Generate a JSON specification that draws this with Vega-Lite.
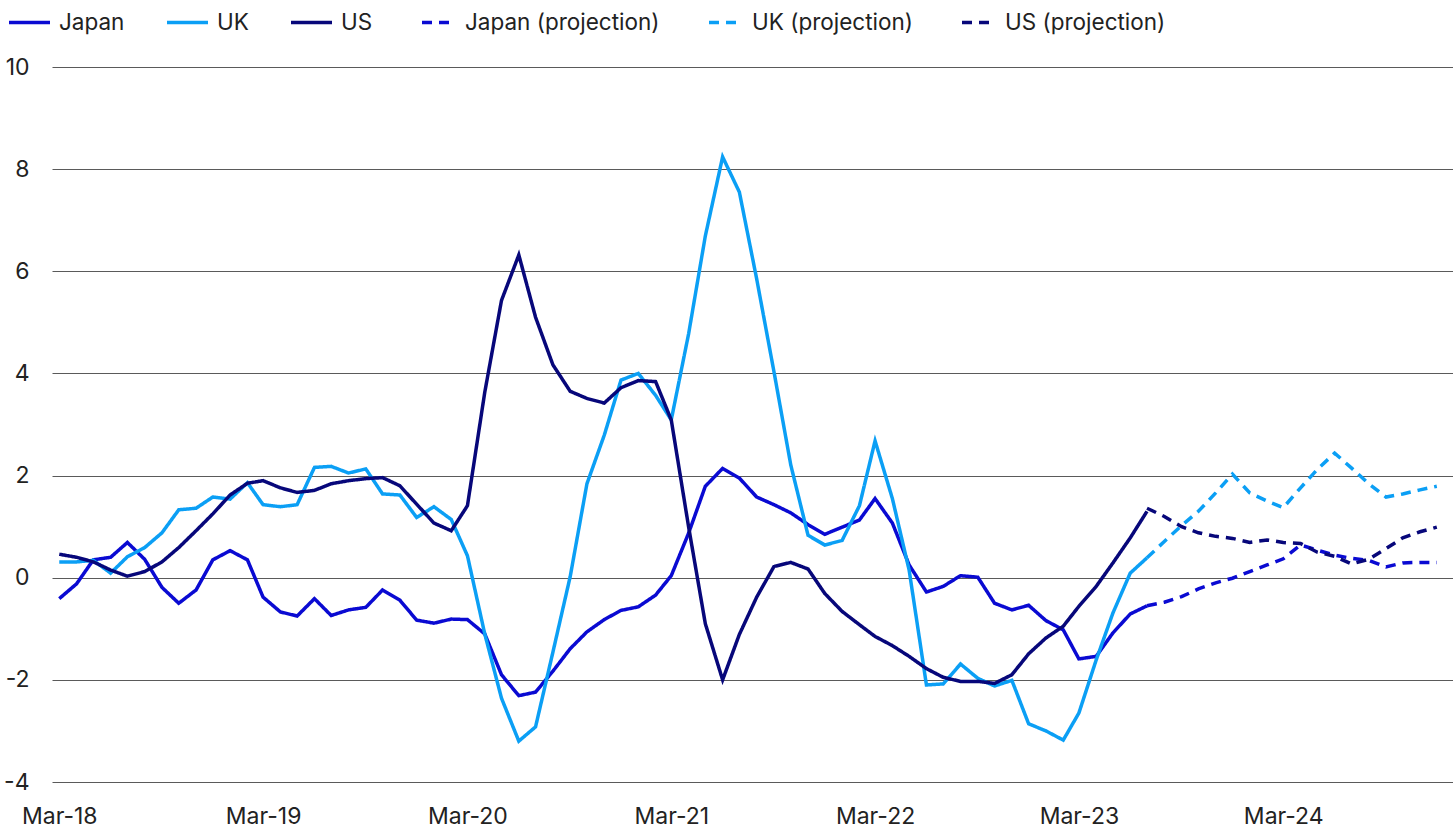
{
  "$schema": "https://vega.github.io/schema/vega-lite/v6.json",
  "width": 1401,
  "height": 715,
  "autosize": {"type": "none"},
  "padding": {"left": 52, "top": 67, "right": 0, "bottom": 47},
  "background": "white",
  "config": {"font": "Inter", "view": {"stroke": null}},
  "data": {
    "format": {"parse": {"month": "date"}},
    "values": [
      {"month": "2018/03/01", "Japan": -0.41, "UK": 0.31, "US": 0.46},
      {"month": "2018/04/01", "Japan": -0.12, "UK": 0.31, "US": 0.40},
      {"month": "2018/05/01", "Japan": 0.35, "UK": 0.34, "US": 0.31},
      {"month": "2018/06/01", "Japan": 0.40, "UK": 0.09, "US": 0.15},
      {"month": "2018/07/01", "Japan": 0.69, "UK": 0.41, "US": 0.03},
      {"month": "2018/08/01", "Japan": 0.36, "UK": 0.59, "US": 0.12},
      {"month": "2018/09/01", "Japan": -0.19, "UK": 0.88, "US": 0.31},
      {"month": "2018/10/01", "Japan": -0.50, "UK": 1.33, "US": 0.59},
      {"month": "2018/11/01", "Japan": -0.24, "UK": 1.36, "US": 0.92},
      {"month": "2018/12/01", "Japan": 0.35, "UK": 1.58, "US": 1.25},
      {"month": "2019/01/01", "Japan": 0.53, "UK": 1.54, "US": 1.62},
      {"month": "2019/02/01", "Japan": 0.35, "UK": 1.86, "US": 1.85},
      {"month": "2019/03/01", "Japan": -0.38, "UK": 1.43, "US": 1.90},
      {"month": "2019/04/01", "Japan": -0.67, "UK": 1.39, "US": 1.76},
      {"month": "2019/05/01", "Japan": -0.75, "UK": 1.43, "US": 1.67},
      {"month": "2019/06/01", "Japan": -0.41, "UK": 2.16, "US": 1.71},
      {"month": "2019/07/01", "Japan": -0.74, "UK": 2.18, "US": 1.84},
      {"month": "2019/08/01", "Japan": -0.63, "UK": 2.05, "US": 1.90},
      {"month": "2019/09/01", "Japan": -0.58, "UK": 2.13, "US": 1.94},
      {"month": "2019/10/01", "Japan": -0.24, "UK": 1.64, "US": 1.96},
      {"month": "2019/11/01", "Japan": -0.44, "UK": 1.62, "US": 1.80},
      {"month": "2019/12/01", "Japan": -0.83, "UK": 1.18, "US": 1.44},
      {"month": "2020/01/01", "Japan": -0.89, "UK": 1.39, "US": 1.07},
      {"month": "2020/02/01", "Japan": -0.81, "UK": 1.14, "US": 0.92},
      {"month": "2020/03/01", "Japan": -0.82, "UK": 0.43, "US": 1.41},
      {"month": "2020/04/01", "Japan": -1.10, "UK": -1.10, "US": 3.63},
      {"month": "2020/05/01", "Japan": -1.90, "UK": -2.36, "US": 5.43},
      {"month": "2020/06/01", "Japan": -2.31, "UK": -3.20, "US": 6.32},
      {"month": "2020/07/01", "Japan": -2.24, "UK": -2.92, "US": 5.10},
      {"month": "2020/08/01", "Japan": -1.83, "UK": -1.46, "US": 4.17},
      {"month": "2020/09/01", "Japan": -1.39, "UK": 0.02, "US": 3.65},
      {"month": "2020/10/01", "Japan": -1.06, "UK": 1.84, "US": 3.51},
      {"month": "2020/11/01", "Japan": -0.82, "UK": 2.79, "US": 3.42},
      {"month": "2020/12/01", "Japan": -0.64, "UK": 3.87, "US": 3.72},
      {"month": "2021/01/01", "Japan": -0.57, "UK": 4.00, "US": 3.86},
      {"month": "2021/02/01", "Japan": -0.34, "UK": 3.57, "US": 3.84},
      {"month": "2021/03/01", "Japan": 0.04, "UK": 3.09, "US": 3.09},
      {"month": "2021/04/01", "Japan": 0.87, "UK": 4.77, "US": 1.00},
      {"month": "2021/05/01", "Japan": 1.79, "UK": 6.69, "US": -0.90},
      {"month": "2021/06/01", "Japan": 2.14, "UK": 8.24, "US": -2.00},
      {"month": "2021/07/01", "Japan": 1.95, "UK": 7.55, "US": -1.11},
      {"month": "2021/08/01", "Japan": 1.58, "UK": 5.85, "US": -0.38},
      {"month": "2021/09/01", "Japan": 1.43, "UK": 4.03, "US": 0.22},
      {"month": "2021/10/01", "Japan": 1.27, "UK": 2.21, "US": 0.30},
      {"month": "2021/11/01", "Japan": 1.04, "UK": 0.83, "US": 0.17},
      {"month": "2021/12/01", "Japan": 0.85, "UK": 0.64, "US": -0.31},
      {"month": "2022/01/01", "Japan": 0.99, "UK": 0.73, "US": -0.66},
      {"month": "2022/02/01", "Japan": 1.13, "UK": 1.41, "US": -0.92},
      {"month": "2022/03/01", "Japan": 1.55, "UK": 2.68, "US": -1.15},
      {"month": "2022/04/01", "Japan": 1.07, "UK": 1.55, "US": -1.33},
      {"month": "2022/05/01", "Japan": 0.25, "UK": 0.15, "US": -1.54},
      {"month": "2022/06/01", "Japan": -0.28, "UK": -2.10, "US": -1.78},
      {"month": "2022/07/01", "Japan": -0.17, "UK": -2.08, "US": -1.95},
      {"month": "2022/08/01", "Japan": 0.04, "UK": -1.69, "US": -2.03},
      {"month": "2022/09/01", "Japan": 0.01, "UK": -1.97, "US": -2.03},
      {"month": "2022/10/01", "Japan": -0.50, "UK": -2.12, "US": -2.07},
      {"month": "2022/11/01", "Japan": -0.63, "UK": -2.01, "US": -1.90},
      {"month": "2022/12/01", "Japan": -0.54, "UK": -2.86, "US": -1.49},
      {"month": "2023/01/01", "Japan": -0.84, "UK": -3.00, "US": -1.18},
      {"month": "2023/02/01", "Japan": -1.02, "UK": -3.18, "US": -0.95},
      {"month": "2023/03/01", "Japan": -1.59, "UK": -2.65, "US": -0.56},
      {"month": "2023/04/01", "Japan": -1.54, "UK": -1.61, "US": -0.17},
      {"month": "2023/05/01", "Japan": -1.08, "UK": -0.69, "US": 0.29},
      {"month": "2023/06/01", "Japan": -0.71, "UK": 0.09, "US": 0.78},
      {"month": "2023/07/01", "Japan": -0.55, "UK": 0.39, "US": 1.30, "Japan (projection)": -0.55, "UK (projection)": 0.39, "US (projection)": 1.36},
      {"month": "2023/08/01", "Japan (projection)": -0.48, "UK (projection)": 0.71, "US (projection)": 1.20},
      {"month": "2023/09/01", "Japan (projection)": -0.37, "UK (projection)": 1.02, "US (projection)": 1.00},
      {"month": "2023/10/01", "Japan (projection)": -0.22, "UK (projection)": 1.30, "US (projection)": 0.88},
      {"month": "2023/11/01", "Japan (projection)": -0.10, "UK (projection)": 1.66, "US (projection)": 0.81},
      {"month": "2023/12/01", "Japan (projection)": -0.01, "UK (projection)": 2.03, "US (projection)": 0.77},
      {"month": "2024/01/01", "Japan (projection)": 0.12, "UK (projection)": 1.66, "US (projection)": 0.69},
      {"month": "2024/02/01", "Japan (projection)": 0.25, "UK (projection)": 1.50, "US (projection)": 0.74},
      {"month": "2024/03/01", "Japan (projection)": 0.37, "UK (projection)": 1.37, "US (projection)": 0.69},
      {"month": "2024/04/01", "Japan (projection)": 0.64, "UK (projection)": 1.76, "US (projection)": 0.67},
      {"month": "2024/05/01", "Japan (projection)": 0.54, "UK (projection)": 2.12, "US (projection)": 0.50},
      {"month": "2024/06/01", "Japan (projection)": 0.44, "UK (projection)": 2.44, "US (projection)": 0.42},
      {"month": "2024/07/01", "Japan (projection)": 0.38, "UK (projection)": 2.15, "US (projection)": 0.27},
      {"month": "2024/08/01", "Japan (projection)": 0.34, "UK (projection)": 1.84, "US (projection)": 0.36},
      {"month": "2024/09/01", "Japan (projection)": 0.21, "UK (projection)": 1.58, "US (projection)": 0.57},
      {"month": "2024/10/01", "Japan (projection)": 0.29, "UK (projection)": 1.64, "US (projection)": 0.78},
      {"month": "2024/11/01", "Japan (projection)": 0.30, "UK (projection)": 1.72, "US (projection)": 0.90},
      {"month": "2024/12/01", "Japan (projection)": 0.30, "UK (projection)": 1.79, "US (projection)": 0.99}
    ]
  },
  "transform": [
    {"fold": ["Japan", "UK", "US", "Japan (projection)", "UK (projection)", "US (projection)"], "as": ["series", "value"]},
    {"filter": "isValid(datum.value)"}
  ],
  "mark": {"type": "line", "strokeWidth": 3.5},
  "encoding": {
    "x": {
      "field": "month",
      "type": "temporal",
      "scale": {"domain": [{"year": 2018, "month": 2, "date": 16}, {"year": 2024, "month": 12, "date": 30}]},
      "axis": {
        "title": null,
        "values": [
          {"year": 2018, "month": 3, "date": 1},
          {"year": 2019, "month": 3, "date": 1},
          {"year": 2020, "month": 3, "date": 1},
          {"year": 2021, "month": 3, "date": 1},
          {"year": 2022, "month": 3, "date": 1},
          {"year": 2023, "month": 3, "date": 1},
          {"year": 2024, "month": 3, "date": 1}
        ],
        "format": "%b-%y",
        "ticks": false,
        "domain": false,
        "grid": false,
        "labelPadding": 23,
        "labelFontSize": 23,
        "labelColor": "#222222",
        "labelFont": "Inter"
      }
    },
    "y": {
      "field": "value",
      "type": "quantitative",
      "scale": {"domain": [-4, 10], "nice": false, "zero": false},
      "axis": {
        "title": null,
        "values": [-4, -2, 0, 2, 4, 6, 8, 10],
        "labelExpr": "'' + datum.value",
        "ticks": false,
        "domain": false,
        "grid": true,
        "gridColor": "#5a5a5a",
        "gridWidth": 1,
        "labelPadding": 23,
        "labelFontSize": 23,
        "labelColor": "#222222",
        "labelFont": "Inter"
      }
    },
    "color": {
      "field": "series",
      "type": "nominal",
      "scale": {
        "domain": ["Japan", "UK", "US", "Japan (projection)", "UK (projection)", "US (projection)"],
        "range": ["#0a0ad2", "#0b9ff5", "#07077a", "#0a0ad2", "#0b9ff5", "#07077a"]
      },
      "legend": {
        "orient": "none",
        "legendX": -45,
        "legendY": -67,
        "direction": "horizontal",
        "title": null,
        "symbolType": "stroke",
        "symbolSize": 1681,
        "symbolStrokeWidth": 3.5,
        "symbolDashOffset": 10,
        "labelFontSize": 22.5,
        "labelColor": "#222222",
        "labelFont": "Inter",
        "labelOffset": 7,
        "columnPadding": 35,
        "labelLimit": 400,
        "padding": 0
      }
    },
    "strokeDash": {
      "field": "series",
      "type": "nominal",
      "scale": {
        "domain": ["Japan", "UK", "US", "Japan (projection)", "UK (projection)", "US (projection)"],
        "range": [[1, 0], [1, 0], [1, 0], [10, 7], [10, 7], [10, 7]]
      },
      "legend": {
        "orient": "none",
        "legendX": -45,
        "legendY": -67,
        "direction": "horizontal",
        "title": null,
        "symbolType": "stroke",
        "symbolSize": 1681,
        "symbolStrokeWidth": 3.5,
        "symbolDashOffset": 10,
        "labelFontSize": 22.5,
        "labelColor": "#222222",
        "labelFont": "Inter",
        "labelOffset": 7,
        "columnPadding": 35,
        "labelLimit": 400,
        "padding": 0
      }
    }
  }
}
